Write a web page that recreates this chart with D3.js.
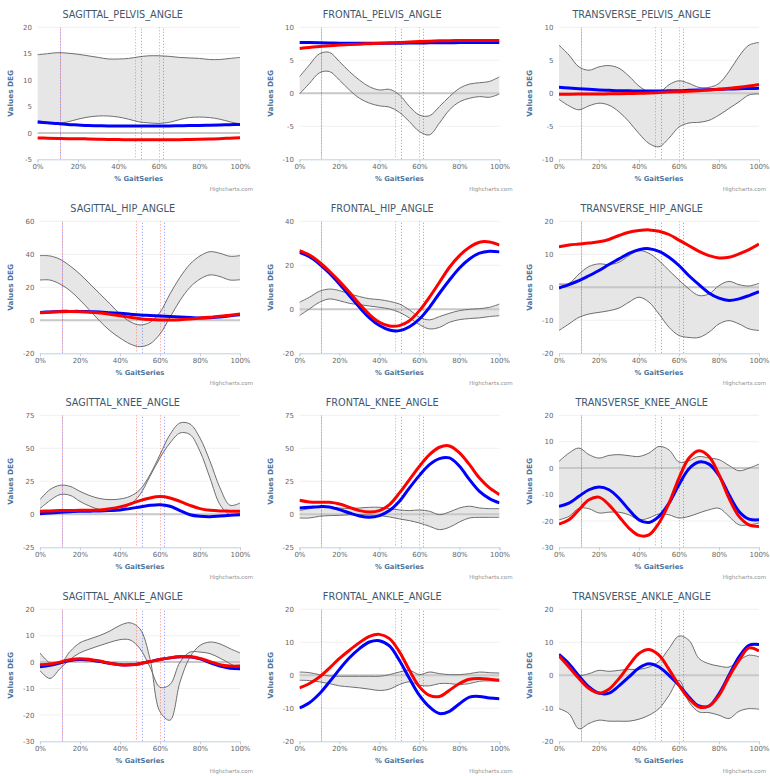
<!DOCTYPE html>
<html>
<head>
<meta charset="utf-8">
<script src="https://cdn.jsdelivr.net/npm/d3@7"></script>
<style>
  body { margin: 0; background: #fff; }
  svg { font-family: "DejaVu Sans", Verdana, sans-serif; display: block; }
</style>
</head>
<body>
<div id="chart"></div>
<script>
// gait cycle sample points (% of cycle)
const pct = d3.range(0, 101, 5);
const xTicks = [0, 20, 40, 60, 80, 100];
// gait events (dotted vertical lines)
const eventsRed = [11, 48, 60];
const eventsBlue = [11, 51, 62];

// SAGITTAL_PELVIS_ANGLE
const sagPelvisTicks = [-5, 0, 5, 10, 15, 20];
const sagPelvisUpper = [14.8,15.0,15.2,15.1,14.9,14.6,14.3,14.0,14.0,14.1,14.4,14.6,14.6,14.5,14.3,14.2,14.1,13.9,13.9,14.1,14.3];
const sagPelvisLower = [1.8,1.8,1.8,2.1,2.6,3.0,3.2,3.2,3.0,2.6,2.1,1.9,1.8,2.0,2.5,2.9,3.0,2.9,2.6,2.1,1.7];
const sagPelvisBlue = [2.1,1.9,1.8,1.6,1.5,1.4,1.35,1.3,1.3,1.3,1.3,1.3,1.3,1.3,1.35,1.4,1.4,1.45,1.5,1.55,1.6];
const sagPelvisRed = [-0.95,-1.0,-1.05,-1.1,-1.1,-1.15,-1.2,-1.25,-1.25,-1.3,-1.3,-1.3,-1.3,-1.3,-1.3,-1.25,-1.2,-1.15,-1.1,-1.0,-0.9];

// FRONTAL_PELVIS_ANGLE
const froPelvisTicks = [-10, -5, 0, 5, 10];
const froPelvisUpper = [2.5,4.3,6.0,6.2,4.8,3.3,2.0,1.0,0.5,0.6,-0.25,-2.0,-3.3,-3.4,-2.0,-0.5,0.75,1.4,1.6,1.8,2.5];
const froPelvisLower = [-0.1,1.5,3.1,3.3,2.0,0.5,-0.75,-1.5,-1.9,-2.1,-2.9,-4.3,-5.8,-6.3,-4.5,-2.5,-1.3,-0.75,-0.5,-0.6,-0.1];
const froPelvisBlue = [7.7,7.68,7.65,7.62,7.6,7.6,7.6,7.6,7.6,7.6,7.6,7.62,7.63,7.65,7.66,7.67,7.68,7.7,7.7,7.7,7.7];
const froPelvisRed = [6.8,6.95,7.1,7.2,7.3,7.38,7.45,7.52,7.6,7.65,7.7,7.78,7.85,7.9,7.95,7.98,8.0,8.0,8.0,8.0,8.0];

// TRANSVERSE_PELVIS_ANGLE
const traPelvisTicks = [-10, -5, 0, 5, 10];
const traPelvisUpper = [7.3,5.8,4.0,3.5,4.0,4.2,3.8,2.6,1.1,0.2,0.1,1.3,1.9,1.5,0.9,0.9,1.5,3.3,5.6,7.3,7.7];
const traPelvisLower = [-0.9,-1.9,-2.5,-1.9,-1.5,-1.8,-2.8,-4.3,-6.1,-7.6,-8.1,-6.8,-5.1,-4.5,-4.4,-4.1,-3.3,-2.3,-1.3,-0.25,-0.1];
const traPelvisBlue = [0.9,0.8,0.7,0.6,0.5,0.45,0.4,0.38,0.35,0.35,0.35,0.38,0.4,0.45,0.5,0.55,0.6,0.65,0.7,0.72,0.75];
const traPelvisRed = [-0.15,-0.13,-0.12,-0.1,-0.1,-0.08,-0.05,-0.02,0.0,0.05,0.12,0.18,0.25,0.32,0.4,0.5,0.6,0.75,0.9,1.1,1.35];

// SAGITTAL_HIP_ANGLE
const sagHipTicks = [-20, 0, 20, 40, 60];
const sagHipUpper = [39.2,39,37,33,28,22,16,10,3.8,-0.8,-2.8,-1.2,4.8,16,26,34,39,41.6,40.6,38.8,39.2];
const sagHipLower = [24.4,24.4,22,18,12.3,5.9,-0.6,-6.3,-10.7,-14.3,-16,-14.3,-8.3,1.8,12,20,25,27.5,26.5,24.4,24.6];
const sagHipBlue = [4.8,5.1,5.4,5.4,5.4,5.2,5.0,4.6,4.2,3.7,3.2,2.9,2.6,2.3,2.0,1.7,1.4,1.6,2.0,2.7,3.4];
const sagHipRed = [4.6,4.9,5.2,5.3,5.2,4.9,4.4,3.7,2.8,1.9,1.0,0.5,0.2,0.2,0.4,0.8,1.4,1.9,2.4,3.1,3.8];

// FRONTAL_HIP_ANGLE
const froHipTicks = [-20, 0, 20, 40];
const froHipUpper = [3.2,5.5,8.2,9.2,8.5,7.0,5.8,4.8,4.4,3.6,2.4,-0.3,-3.6,-4.8,-3.3,-1.8,-0.6,0,0.3,0.9,2.4];
const froHipLower = [-2.9,0.15,3.2,4.7,3.9,2.7,2.1,1.5,0.9,0.15,-1.4,-3.9,-7.0,-8.9,-8.2,-5.9,-4.7,-4.2,-3.9,-3.3,-2.9];
const froHipBlue = [25.9,23.9,20.6,16.4,11.5,6.2,0.9,-3.9,-7.4,-9.4,-9.7,-7.9,-4.4,0.9,7.3,13.3,18.8,22.9,25.5,26.4,26.1];
const froHipRed = [26.7,24.7,21.4,17.3,12.7,7.7,2.4,-2.4,-5.9,-7.6,-7.4,-5.2,-0.6,5.5,12.3,19.1,24.4,28.2,30.5,30.6,29.2];

// TRANSVERSE_HIP_ANGLE
const traHipTicks = [-20, -10, 0, 10, 20];
const traHipUpper = [1.0,1.2,4.0,6.3,7.1,6.9,7.6,9.6,11.1,10.3,8.1,5.1,2.2,-0.5,-2.5,-2.0,0.5,1.8,0.8,0.4,1.2];
const traHipLower = [-13.1,-11.1,-9.1,-8.1,-7.6,-7.1,-6.3,-4.5,-3.0,-4.5,-8.1,-12.1,-14.6,-15.2,-15.2,-13.6,-11.1,-10.1,-11.1,-12.6,-13.1];
const traHipBlue = [-0.2,0.8,2.0,3.5,5.1,6.9,8.6,10.3,11.4,11.7,10.9,9.1,6.6,3.5,0.8,-1.7,-3.3,-4.0,-3.5,-2.5,-1.3];
const traHipRed = [12.3,12.8,13.1,13.4,13.8,14.5,15.7,16.7,17.2,17.4,17.0,16.0,14.3,12.6,10.9,9.6,8.9,9.1,10.1,11.4,13.1];

// SAGITTAL_KNEE_ANGLE
const sagKneeTicks = [-25, 0, 25, 50, 75];
const sagKneeUpper = [11.1,18.7,22,21.2,17.4,14.1,11.9,11.1,11.6,13.6,18.7,30,45.2,60.4,69.2,68.4,57.8,40.2,20,6.8,8.6];
const sagKneeLower = [4.3,10.4,14.9,14.4,9.8,6.1,3.5,2.3,3.5,7.3,14.9,28.8,42.7,54,61.6,60.4,47.7,27.5,7.3,-0.3,1.0];
const sagKneeBlue = [0.5,1.0,1.5,1.9,2.3,2.4,2.5,2.8,3.3,4.3,5.6,6.8,7.3,6.1,2.8,-0.3,-1.5,-1.8,-1.3,-0.8,-0.3];
const sagKneeRed = [2.3,2.5,2.8,2.9,3.0,3.1,3.3,4.2,5.6,7.8,10.4,12.4,13.4,12.4,9.8,6.8,4.3,3.0,2.5,2.4,2.3];

// FRONTAL_KNEE_ANGLE
const froKneeTicks = [-25, 0, 25, 50, 75];
const froKneeUpper = [2.8,4.3,5.3,5.3,4.8,4.3,4.8,5.3,5.3,4.3,3.3,2.8,3.3,2.3,-0.3,1.8,4.8,6.1,4.8,4.3,4.3];
const froKneeLower = [-2.8,-2.8,-1.5,-1.0,-0.8,-0.3,-0.3,-0.5,-1.0,-2.0,-3.5,-4.8,-6.6,-9.1,-11.6,-9.8,-5.8,-2.8,-2.3,-2.3,-2.3];
const froKneeBlue = [4.8,5.3,5.8,5.6,3.5,1.0,-1.3,-2.3,-1.0,2.8,9.8,20,29.5,37.6,42.2,42.7,36.4,26.3,17.4,11.9,8.6];
const froKneeRed = [10.6,9.3,9.1,9.1,7.8,5.3,2.8,1.8,2.8,7.3,16.2,26.3,36.4,45.2,50.8,51.8,46.5,37.6,27.5,20,14.9];

// TRANSVERSE_KNEE_ANGLE
const traKneeTicks = [-30, -20, -10, 0, 10, 20];
const traKneeUpper = [2.5,5.7,7.6,5.1,3.8,4.8,5.1,4.7,4.4,5.7,8.2,6.9,2.3,2.8,4.4,3.8,3.2,1.0,-1.0,0,1.5];
const traKneeLower = [-19.6,-18.3,-15.2,-15.4,-17.0,-16.7,-16.7,-17.7,-19.6,-18.9,-17.4,-17.7,-18.9,-18.3,-17.0,-15.8,-15.2,-18.3,-21.5,-21.5,-20.8];
const traKneeBlue = [-14.5,-13.3,-10.7,-8.2,-7.2,-8.2,-11.4,-15.8,-19.6,-20.6,-18.3,-13.3,-6.3,-0.25,2.3,1.5,-2.8,-10.1,-16.4,-19.3,-19.6];
const traKneeRed = [-21.2,-19.6,-15.8,-12.0,-11.0,-13.9,-18.3,-22.7,-25.5,-25.3,-20.8,-13.3,-3.8,3.8,6.6,4.4,-2.5,-11.4,-18.3,-21.5,-22.1];

// SAGITTAL_ANKLE_ANGLE (band edges cross each other)
const sagAnkleTicks = [-30, -20, -10, 0, 10, 20];
const sagAnkleUpper = [3.5,-0.3,-0.8,4.0,7.3,8.8,10.1,11.8,13.9,14.9,12.6,1.3,-18.8,-22.0,-7.6,1.9,6.3,7.6,6.9,5.1,3.5];
const sagAnkleLower = [-3.2,-6.2,-2.5,1.0,3.5,5.0,6.3,7.5,8.5,8.4,5.1,-1.9,-9.5,-8.5,0.0,3.8,3.8,3.2,1.5,-0.6,-2.5];
const sagAnkleBlue = [-1.8,-1.2,-0.3,0.6,1.0,0.8,0.2,-0.5,-1.0,-1.0,-0.6,0.2,1.0,1.6,2.0,2.0,1.2,-0.2,-1.5,-2.3,-2.5];
const sagAnkleRed = [-1.0,-0.7,0.0,0.9,1.3,1.0,0.4,-0.4,-1.0,-1.0,-0.6,0.2,1.0,1.6,2.0,2.0,1.4,0.2,-1.0,-1.5,-1.5];

// FRONTAL_ANKLE_ANGLE
const froAnkleTicks = [-20, -10, 0, 10, 20];
const froAnkleUpper = [1.0,0.8,0.2,-0.2,-0.3,-0.3,-0.3,-0.3,-0.3,0.2,1.0,1.5,0.2,1.0,0.5,0.2,0.2,0.5,1.0,0.8,0.7];
const froAnkleLower = [-1.5,-1.6,-2.0,-2.5,-3.2,-3.5,-3.8,-4.2,-4.6,-4.2,-2.8,-2.0,-3.0,-3.2,-2.5,-2.5,-2.8,-2.5,-1.8,-1.7,-1.8];
const froAnkleBlue = [-9.9,-8.3,-5.6,-2.0,1.8,5.3,8.1,10.1,10.5,8.9,4.5,-1.0,-6.1,-9.6,-11.6,-10.9,-8.6,-6.6,-6.4,-6.9,-7.1];
const froAnkleRed = [-3.8,-2.5,-0.5,2.2,5.1,7.6,9.9,11.8,12.4,11.1,7.1,1.5,-3.5,-6.1,-6.4,-4.5,-2.5,-1.2,-1.0,-1.2,-1.5];

// TRANSVERSE_ANKLE_ANGLE
const traAnkleTicks = [-20, -10, 0, 10, 20];
const traAnkleUpper = [5.9,3.0,0,0.5,1.5,1.2,1.5,1.8,1.8,2.5,4.2,8.1,11.9,10.6,5.1,3.5,2.8,2.5,4.5,6.1,5.6];
const traAnkleLower = [-10.1,-11.6,-16.2,-14.6,-13.6,-13.9,-13.9,-13.9,-13.3,-12.1,-10.1,-6.1,-1.5,-8.1,-11.1,-11.3,-12.1,-13.1,-10.9,-10.1,-10.3];
const traAnkleBlue = [6.3,3.5,-0.2,-3.5,-5.4,-5.4,-3.2,-0.5,2.2,3.5,2.5,0,-3.0,-6.6,-9.3,-9.3,-5.6,0,5.6,9.1,9.3];
const traAnkleRed = [5.9,2.5,-1.0,-4.0,-5.4,-4.2,-1.0,3.0,6.6,7.8,6.1,1.8,-3.0,-7.1,-9.6,-9.3,-6.1,-0.5,4.5,8.3,7.4];

const panels = [
    { title: "SAGITTAL_PELVIS_ANGLE", ticks: sagPelvisTicks, upper: sagPelvisUpper, lower: sagPelvisLower, blue: sagPelvisBlue, red: sagPelvisRed },
    { title: "FRONTAL_PELVIS_ANGLE", ticks: froPelvisTicks, upper: froPelvisUpper, lower: froPelvisLower, blue: froPelvisBlue, red: froPelvisRed },
    { title: "TRANSVERSE_PELVIS_ANGLE", ticks: traPelvisTicks, upper: traPelvisUpper, lower: traPelvisLower, blue: traPelvisBlue, red: traPelvisRed },
    { title: "SAGITTAL_HIP_ANGLE", ticks: sagHipTicks, upper: sagHipUpper, lower: sagHipLower, blue: sagHipBlue, red: sagHipRed },
    { title: "FRONTAL_HIP_ANGLE", ticks: froHipTicks, upper: froHipUpper, lower: froHipLower, blue: froHipBlue, red: froHipRed },
    { title: "TRANSVERSE_HIP_ANGLE", ticks: traHipTicks, upper: traHipUpper, lower: traHipLower, blue: traHipBlue, red: traHipRed },
    { title: "SAGITTAL_KNEE_ANGLE", ticks: sagKneeTicks, upper: sagKneeUpper, lower: sagKneeLower, blue: sagKneeBlue, red: sagKneeRed },
    { title: "FRONTAL_KNEE_ANGLE", ticks: froKneeTicks, upper: froKneeUpper, lower: froKneeLower, blue: froKneeBlue, red: froKneeRed },
    { title: "TRANSVERSE_KNEE_ANGLE", ticks: traKneeTicks, upper: traKneeUpper, lower: traKneeLower, blue: traKneeBlue, red: traKneeRed },
    { title: "SAGITTAL_ANKLE_ANGLE", ticks: sagAnkleTicks, upper: sagAnkleUpper, lower: sagAnkleLower, blue: sagAnkleBlue, red: sagAnkleRed },
    { title: "FRONTAL_ANKLE_ANGLE", ticks: froAnkleTicks, upper: froAnkleUpper, lower: froAnkleLower, blue: froAnkleBlue, red: froAnkleRed },
    { title: "TRANSVERSE_ANKLE_ANGLE", ticks: traAnkleTicks, upper: traAnkleUpper, lower: traAnkleLower, blue: traAnkleBlue, red: traAnkleRed }
];

const width = 770, height = 776;
const colX = [0, 259.5, 519];
const rowH = 194;
const plotTop = 27.3, plotBottom = 159.3, plotRightOff = 240;

const svg = d3.select("#chart").append("svg")
    .attr("width", width)
    .attr("height", height)
    .style("background", "#fff");

panels.forEach((p, i) => {
    const c = i % 3, r = Math.floor(i / 3);
    const ox = colX[c];
    const g = svg.append("g").attr("transform", `translate(${ox},${r * rowH})`);

    const y = d3.scaleLinear()
        .domain(d3.extent(p.ticks))
        .range([plotBottom, plotTop]);

    // y axis labels first, so the plot left edge can follow their width
    const yAxis = g.append("g")
        .call(d3.axisLeft(y).tickValues(p.ticks).tickSize(0).tickPadding(5.5).tickFormat(d => String(d)));
    yAxis.select(".domain").remove();
    yAxis.selectAll("text")
        .style("font-family", "DejaVu Sans, Verdana, sans-serif")
        .style("font-size", "7px")
        .style("fill", "#666");
    let labW = 0;
    yAxis.selectAll("text").each(function() { labW = Math.max(labW, this.getComputedTextLength()); });
    const plotLeft = 23 + labW + 5.5;
    const plotRight = plotRightOff;
    yAxis.attr("transform", `translate(${plotLeft},0)`);

    const x = d3.scaleLinear().domain([0, 100]).range([plotLeft, plotRight]);
    // snap a local x to the centre of a screen pixel
    const snap = v => Math.round(ox + v) + 0.5 - ox;

    const clipId = "clip" + i;
    g.append("clipPath").attr("id", clipId)
        .append("rect")
        .attr("x", plotLeft).attr("y", plotTop)
        .attr("width", plotRight - plotLeft).attr("height", plotBottom - plotTop);

    // grid
    g.append("g").selectAll("line")
        .data(p.ticks.filter(t => t !== d3.min(p.ticks)))
        .join("line")
        .attr("x1", plotLeft).attr("x2", plotRight)
        .attr("y1", d => y(d)).attr("y2", d => y(d))
        .attr("stroke", "#f0f0f0")
        .attr("stroke-width", 1);

    const plot = g.append("g").attr("clip-path", `url(#${clipId})`);

    // normal range band
    const band = d3.zip(p.lower, p.upper);
    plot.append("path")
        .datum(band)
        .attr("d", d3.area()
            .x((d, k) => x(pct[k]))
            .y0(d => y(d[0]))
            .y1(d => y(d[1]))
            .curve(d3.curveCatmullRom))
        .attr("fill", "#e6e6e6");

    // zero line
    plot.append("line")
        .attr("x1", plotLeft).attr("x2", plotRight)
        .attr("y1", y(0)).attr("y2", y(0))
        .attr("stroke", "#c8c8c8")
        .attr("stroke-width", 2);

    const line = d3.line()
        .x((d, k) => x(pct[k]))
        .y(d => y(d))
        .curve(d3.curveCatmullRom);

    [p.upper, p.lower].forEach(s => {
        plot.append("path")
            .datum(s)
            .attr("d", line)
            .attr("fill", "none")
            .attr("stroke", "#6e6e6e")
            .attr("stroke-width", 1);
    });

    // gait events: red and blue dotted lines, dashes offset so they interleave when they coincide
    plot.selectAll(".ev-red")
        .data(eventsRed)
        .join("line")
        .attr("class", "ev-red")
        .attr("x1", d => snap(x(d))).attr("x2", d => snap(x(d)))
        .attr("y1", plotTop).attr("y2", plotBottom)
        .attr("stroke", "rgba(255,40,40,0.5)")
        .attr("stroke-width", 1)
        .attr("stroke-dasharray", "1,2");
    plot.selectAll(".ev-blue")
        .data(eventsBlue)
        .join("line")
        .attr("class", "ev-blue")
        .attr("x1", d => snap(x(d))).attr("x2", d => snap(x(d)))
        .attr("y1", plotTop).attr("y2", plotBottom)
        .attr("stroke", "rgba(40,40,255,0.5)")
        .attr("stroke-width", 1)
        .attr("stroke-dasharray", "1,2")
        .attr("stroke-dashoffset", 1.5);

    plot.append("path")
        .datum(p.blue)
        .attr("d", line)
        .attr("fill", "none")
        .attr("stroke", "#0000ff")
        .attr("stroke-width", 3);
    plot.append("path")
        .datum(p.red)
        .attr("d", line)
        .attr("fill", "none")
        .attr("stroke", "#ff0000")
        .attr("stroke-width", 3);

    // x axis
    const xAxis = g.append("g")
        .attr("transform", `translate(0,${plotBottom})`)
        .call(d3.axisBottom(x).tickValues(xTicks).tickSize(3).tickPadding(1.5).tickFormat(d => d + "%"));
    xAxis.select(".domain").attr("stroke", "#c0d0e0");
    xAxis.selectAll(".tick line").attr("stroke", "#c0d0e0");
    xAxis.selectAll("text")
        .style("font-family", "DejaVu Sans, Verdana, sans-serif")
        .style("font-size", "7px")
        .style("fill", "#666");

    // titles
    g.append("text")
        .attr("x", 122.7).attr("y", 18)
        .attr("text-anchor", "middle")
        .style("font-size", "9.7px")
        .style("fill", "#3e576f")
        .text(p.title);

    g.append("text")
        .attr("transform", `translate(13,${(plotTop + plotBottom) / 2}) rotate(-90)`)
        .attr("text-anchor", "middle")
        .style("font-size", "7.3px")
        .style("font-weight", "bold")
        .style("fill", "#4d759e")
        .text("Values DEG");

    g.append("text")
        .attr("x", (plotLeft + plotRight) / 2).attr("y", 181)
        .attr("text-anchor", "middle")
        .style("font-size", "6.8px")
        .style("font-weight", "bold")
        .style("fill", "#4d759e")
        .text("% GaitSeries");

    g.append("text")
        .attr("x", Math.min(253, width - ox - 4)).attr("y", 191)
        .attr("text-anchor", "end")
        .style("font-size", "5.5px")
        .style("fill", "#909090")
        .text("Highcharts.com");
});
</script>
</body>
</html>
